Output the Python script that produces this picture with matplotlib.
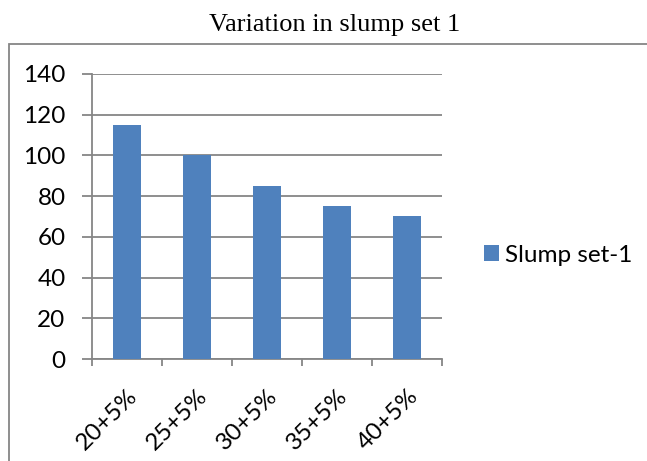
import numpy as np
import matplotlib.pyplot as plt
from matplotlib.patches import Rectangle

categories = ['20+5%', '25+5%', '30+5%', '35+5%', '40+5%']
slump_values = [115, 100, 85, 75, 70]
y_ticks = [0, 20, 40, 60, 80, 100, 120, 140]

BAR_COLOR = '#4F81BD'
GRID_COLOR = '#868686'

plt.rcParams['font.family'] = ['Lato', 'DejaVu Sans']

fig = plt.figure(figsize=(6.47, 4.61), dpi=100)

# chart frame (runs off the right and bottom edges like the source)
fig.patches.append(Rectangle((9 / 647, -0.1), 1.0, 1 - 44 / 461 + 0.1,
                             transform=fig.transFigure, fill=False,
                             edgecolor=GRID_COLOR, linewidth=1.3))

fig.text(335 / 647, 1 - 25 / 461, 'Variation in slump set 1',
         family='Liberation Serif', fontsize=19, ha='center', va='center')

ax = fig.add_axes([92 / 647, 1 - 359 / 461, 350 / 647, 285 / 461])
x = np.arange(len(categories))
ax.bar(x, slump_values, width=0.4, color=BAR_COLOR, label='Slump set-1', zorder=3)

ax.set_xlim(-0.5, len(categories) - 0.5)
ax.set_ylim(0, 140)
ax.set_yticks(y_ticks)
ax.yaxis.grid(True, color=GRID_COLOR, linewidth=1.3, zorder=0)
ax.tick_params(axis='y', length=7, width=1.3, color=GRID_COLOR,
               labelsize=17.5, pad=12)

ax.set_xticks(x)
ax.set_xticklabels(categories, rotation=45, ha='right',
                   rotation_mode='anchor', fontsize=17.5)
ax.set_xticks(np.arange(len(categories) + 1) - 0.5, minor=True)
ax.tick_params(axis='x', which='major', length=0, pad=19)
ax.tick_params(axis='x', which='minor', length=5, width=1.3, color=GRID_COLOR)

for side in ['top', 'right']:
    ax.spines[side].set_visible(False)
for side in ['left', 'bottom']:
    ax.spines[side].set_color(GRID_COLOR)
    ax.spines[side].set_linewidth(1.3)

fig.legend(loc='center left', bbox_to_anchor=(484 / 647, 1 - 255 / 461),
           frameon=False, fontsize=17.5, handlelength=0.6, handleheight=0.6,
           handletextpad=0.25, borderpad=0, borderaxespad=0)

fig.savefig('out.png', dpi=100)
